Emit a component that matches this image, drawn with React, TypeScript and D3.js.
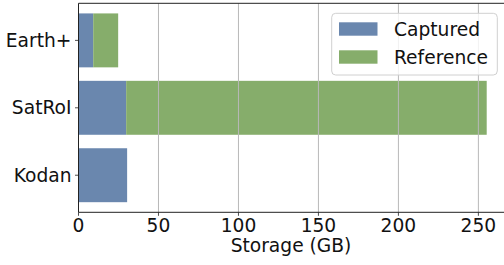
import React from 'react'
import * as d3 from 'd3'

// data
const categories = ['Earth+', 'SatRoI', 'Kodan']
const captured = [9.2, 29.8, 30.4]
const reference = [15.6, 225.4, 0]
const seriesNames = ['Captured', 'Reference']
const seriesColors = ['#6a87ae', '#86ad6b']
const xTicks = [0, 50, 100, 150, 200, 250]

const W = 504
const H = 265
const left = 78.5
const right = 503.5
const top = 3.3
const bottom = 212.3
const FONT = 'DejaVu Sans, sans-serif'
const FS = 18.67

export default function App() {
  const x = d3.scaleLinear().domain([0, 265.7]).range([left, right])
  const y = d3.scaleLinear().domain([-0.55, 2.55]).range([top, bottom])
  const barH = y(0.8) - y(0)

  const stacked = categories.map((c, i) => ({
    cat: c,
    i,
    parts: [
      { x0: 0, x1: captured[i], color: seriesColors[0] },
      { x0: captured[i], x1: captured[i] + reference[i], color: seriesColors[1] },
    ],
  }))

  return (
    <svg width={W} height={H} style={{ position: 'absolute', left: 0, top: 0, display: 'block' }}
      fontFamily={FONT}>
      <rect x={0} y={0} width={W} height={H} fill="white" />
      {/* bars */}
      {stacked.map(s =>
        s.parts.filter(p => p.x1 > p.x0).map((p, k) => (
          <rect key={s.cat + k} x={x(p.x0)} width={x(p.x1) - x(p.x0)}
            y={y(s.i) - barH / 2} height={barH} fill={p.color} />
        ))
      )}
      {/* grid sits on top of the bars */}
      {xTicks.filter(t => t > 0).map(t => (
        <line key={'g' + t} x1={x(t)} x2={x(t)} y1={top} y2={bottom}
          stroke="#b8b8b8" strokeWidth={1} />
      ))}
      {/* spines */}
      <line x1={left} x2={right + 2} y1={top} y2={top} stroke="#222" strokeWidth={1} />
      <line x1={left} x2={right + 2} y1={bottom} y2={bottom} stroke="#222" strokeWidth={1} />
      <line x1={left} x2={left} y1={top} y2={bottom} stroke="#222" strokeWidth={1} />
      {/* x ticks */}
      {xTicks.map(t => (
        <g key={'x' + t}>
          <line x1={x(t)} x2={x(t)} y1={bottom} y2={bottom + 3.5} stroke="#222" strokeWidth={0.8} />
          <text x={x(t)} y={bottom + 20} textAnchor="middle" fontSize={FS} fill="#111">{t}</text>
        </g>
      ))}
      {/* y ticks */}
      {categories.map((c, i) => (
        <g key={'y' + c}>
          <line x1={left - 3.5} x2={left} y1={y(i)} y2={y(i)} stroke="#222" strokeWidth={0.8} />
          <text x={left - 7} y={y(i)} dy="0.35em" textAnchor="end" fontSize={FS} fill="#111">{c}</text>
        </g>
      ))}
      <text x={(left + right) / 2} y={252} textAnchor="middle" fontSize={FS} fill="#111">Storage (GB)</text>
      {/* legend */}
      <g>
        <rect x={331.7} y={13.3} width={165.6} height={61.7} rx={4} fill="white" fillOpacity={0.8}
          stroke="#d0d0d0" strokeWidth={1} />
        {seriesNames.map((n, k) => (
          <g key={n}>
            <rect x={339} y={22.3 + k * 28} width={38.5} height={13.4} fill={seriesColors[k]} />
            <text x={394} y={29 + k * 28} dy="0.35em" fontSize={FS} fill="#111">{n}</text>
          </g>
        ))}
      </g>
    </svg>
  )
}
